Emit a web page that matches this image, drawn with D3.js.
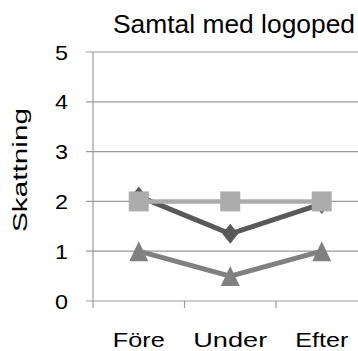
<!DOCTYPE html>
<html>
<head>
<meta charset="utf-8">
<script src="https://cdn.jsdelivr.net/npm/d3@7"></script>
<style>
  body { margin: 0; background: #fff; }
  text { font-family: "Liberation Sans", Arial, sans-serif; fill: #000; }
</style>
</head>
<body>
<svg id="chart" width="358" height="351"></svg>
<script>
const categories = ['Före', 'Under', 'Efter'];
const diamondValues = [2.1, 1.35, 1.95];
const squareValues = [2, 2, 2];
const triangleValues = [1, 0.5, 1];
const yTicks = [0, 1, 2, 3, 4, 5];
const xLabelWidths = [52, 74, 53];

const svg = d3.select('#chart');
const x = d3.scaleBand().domain(categories).range([93, 367.5]);
const y = d3.scaleLinear().domain([0, 5]).range([301, 52]);
const cx = (d) => x(d) + x.bandwidth() / 2;

// gridlines
svg.selectAll('line.grid')
  .data(yTicks)
  .join('line')
  .attr('x1', 86).attr('x2', 358)
  .attr('y1', (d) => y(d)).attr('y2', (d) => y(d))
  .attr('stroke', '#9a9a9a').attr('stroke-width', 1.2);

// y axis line
svg.append('line')
  .attr('x1', 93).attr('x2', 93)
  .attr('y1', y(5)).attr('y2', y(0) + 7)
  .attr('stroke', '#9a9a9a').attr('stroke-width', 1.2);

// x ticks between categories
svg.selectAll('line.xtick')
  .data(categories)
  .join('line')
  .attr('x1', (d) => x(d) + x.bandwidth()).attr('x2', (d) => x(d) + x.bandwidth())
  .attr('y1', y(0)).attr('y2', y(0) + 7)
  .attr('stroke', '#9a9a9a').attr('stroke-width', 1.2);

// y tick labels
svg.selectAll('text.ytick')
  .data(yTicks)
  .join('text')
  .attr('x', 68).attr('y', (d) => y(d) + 7.5)
  .attr('text-anchor', 'end')
  .attr('font-size', 21)
  .attr('textLength', 13).attr('lengthAdjust', 'spacingAndGlyphs')
  .text((d) => d);

// x labels
svg.selectAll('text.xlab')
  .data(categories)
  .join('text')
  .attr('x', (d) => cx(d)).attr('y', 347)
  .attr('text-anchor', 'middle')
  .attr('font-size', 21)
  .attr('textLength', (d, i) => xLabelWidths[i]).attr('lengthAdjust', 'spacingAndGlyphs')
  .text((d) => d);

// title
svg.append('text')
  .attr('x', 234).attr('y', 33)
  .attr('text-anchor', 'middle')
  .attr('font-size', 25)
  .attr('textLength', 242).attr('lengthAdjust', 'spacingAndGlyphs')
  .text('Samtal med logoped');

// y label
svg.append('text')
  .attr('transform', 'translate(27,170) rotate(-90)')
  .attr('text-anchor', 'middle')
  .attr('font-size', 21)
  .attr('textLength', 124).attr('lengthAdjust', 'spacingAndGlyphs')
  .text('Skattning');

const line = d3.line().x((d, i) => cx(categories[i])).y((d) => y(d));

const series = [
  { values: diamondValues, color: '#595959', width: 5, shape: 'diamond' },
  { values: squareValues, color: '#acacac', width: 4.5, shape: 'square' },
  { values: triangleValues, color: '#808080', width: 5, shape: 'triangle' },
];

const shapes = {
  diamond: 'M0,-10L8,0L0,10L-8,0Z',
  square: 'M-10,-10H10V10H-10Z',
  triangle: 'M0,-10L9.5,10H-9.5Z',
};

series.forEach((s) => {
  const g = svg.append('g');
  g.append('path')
    .attr('d', line(s.values))
    .attr('fill', 'none')
    .attr('stroke', s.color)
    .attr('stroke-width', s.width);
  g.selectAll('path.mark')
    .data(s.values)
    .join('path')
    .attr('class', 'mark')
    .attr('transform', (d, i) => `translate(${cx(categories[i])},${y(d)})`)
    .attr('d', shapes[s.shape])
    .attr('fill', s.color);
});
</script>
</body>
</html>
